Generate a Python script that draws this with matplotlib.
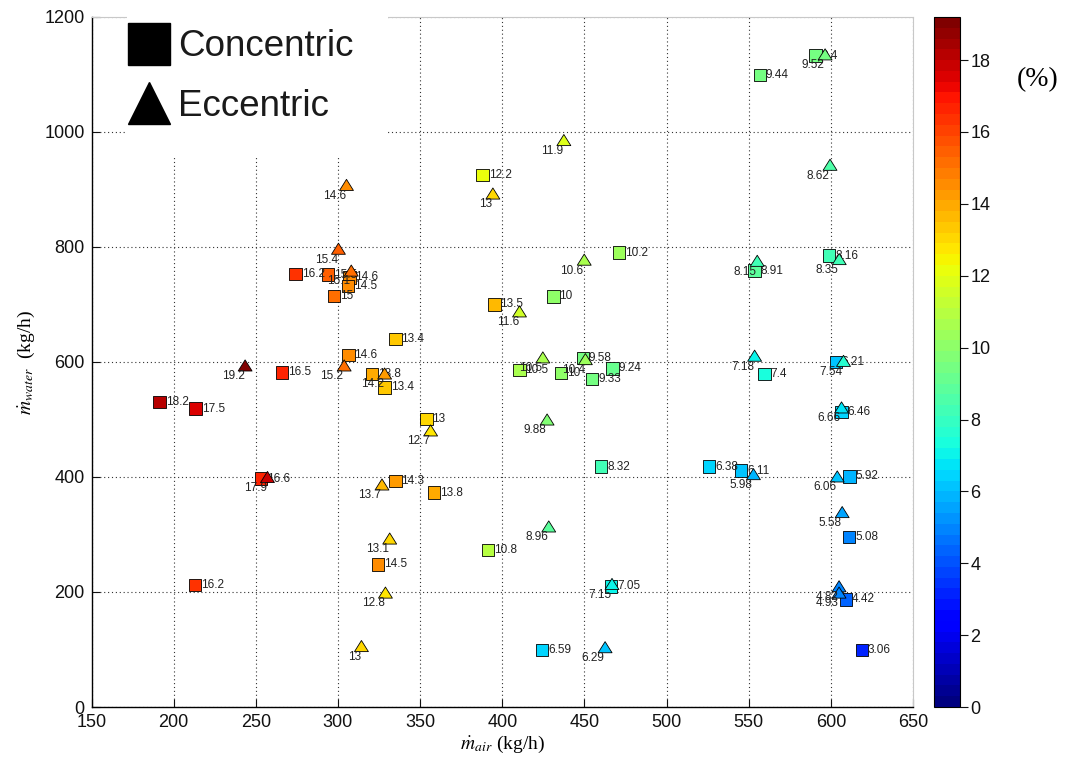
import matplotlib
matplotlib.use('Agg')
from matplotlib import pyplot as plt
from matplotlib.lines import Line2D
from matplotlib.patches import Rectangle
from matplotlib.path import Path
import numpy as np

plt.rcParams['font.family'] = 'Liberation Sans'
plt.rcParams['mathtext.fontset'] = 'stix'

# concentric runs (squares): air flow, water flow, value in %
conc_air = [191.5, 213.4, 213.1, 253.3, 265.8, 274.3, 293.8, 307.0, 306.0, 297.5,
            306.4, 334.9, 320.8, 328.4, 353.8, 334.9, 358.4, 324.4, 388.1, 395.3,
            391.2, 410.5, 431.2, 435.9, 449.0, 467.2, 454.7, 471.2, 460.2, 424.3,
            466.2, 525.8, 545.3, 556.8, 590.8, 553.4, 599.0, 559.7, 603.0, 606.5,
            611.5, 611.1, 609.1, 618.9]
conc_water = [530, 519, 212, 397, 582, 753, 752, 747, 732, 715,
              612, 640, 579, 556, 501, 393, 373, 248, 925, 700,
              273, 586, 714, 581, 607, 589, 570, 790, 418, 99,
              210, 418, 411, 1099, 1133, 759, 785, 579, 600, 513,
              401, 296, 187, 99]
conc_val = [18.2, 17.5, 16.2, 16.6, 16.5, 16.2, 15.5, 14.6, 14.5, 15,
            14.6, 13.4, 13.8, 13.4, 13, 14.3, 13.8, 14.5, 12.2, 13.5,
            10.8, 10.5, 10, 10, 9.58, 9.24, 9.33, 10.2, 8.32, 6.59,
            7.05, 6.38, 6.11, 9.44, 9.4, 8.91, 8.16, 7.4, 6.21, 6.46,
            5.92, 5.08, 4.42, 3.06]

# eccentric runs (triangles)
ecc_air = [243.5, 257.1, 303.8, 305.2, 300.3, 308.1, 328.4, 356.4, 326.8, 331.5,
           328.9, 314.3, 394.3, 410.5, 437.5, 424.7, 450.6, 449.9, 427.3, 428.3,
           466.8, 462.6, 555.2, 553.6, 552.9, 596.5, 599.5, 605.1, 607.7, 606.5,
           603.9, 606.9, 605.0, 605.0]
ecc_water = [594, 400, 594, 908, 797, 759, 580, 481, 387, 293,
             199, 106, 893, 688, 986, 608, 605, 778, 500, 314,
             214, 104, 776, 611, 405, 1135, 943, 779, 602, 521,
             401, 339, 210, 199]
ecc_val = [19.2, 17.9, 15.2, 14.6, 15.4, 15.1, 14.2, 12.7, 13.7, 13.1,
           12.8, 13, 13, 11.6, 11.9, 10.5, 10.4, 10.6, 9.88, 8.96,
           7.15, 6.29, 8.15, 7.18, 5.98, 9.52, 8.62, 8.35, 7.54, 6.66,
           6.06, 5.58, 4.82, 4.93]

x_ticks = np.arange(150, 651, 50)
y_ticks = np.arange(0, 1201, 200)
cbar_ticks = np.arange(0, 19, 2)
vmax = max(conc_val + ecc_val)

cmap = matplotlib.colormaps['jet'].resampled(64)
# flattened triangle, wider than tall
tri = Path([(-1, -0.8), (1, -0.8), (0, 0.8), (-1, -0.8)], closed=True)

fig = plt.figure(figsize=(10.7, 7.62), dpi=100)
ax = fig.add_axes([91.5 / 1070, 55 / 762, 821.5 / 1070, 690 / 762])

sc = ax.scatter(conc_air, conc_water, c=conc_val, cmap=cmap, vmin=0, vmax=vmax,
                marker='s', s=81, edgecolors='k', linewidths=0.6, zorder=3)
for x, y, v in zip(conc_air, conc_water, conc_val):
    ax.annotate(f'{v:g}', (x, y), xytext=(4.3, 0), textcoords='offset points',
                ha='left', va='center', fontsize=8.5, color='#222222', zorder=4)

ax.scatter(ecc_air, ecc_water, c=ecc_val, cmap=cmap, vmin=0, vmax=vmax,
           marker=tri, s=100, edgecolors='k', linewidths=0.6, zorder=5)
for x, y, v in zip(ecc_air, ecc_water, ecc_val):
    ax.annotate(f'{v:g}', (x, y), xytext=(-0.5, -3.5), textcoords='offset points',
                ha='right', va='top', fontsize=8.5, color='#222222', zorder=6)

ax.set_xlim(150, 650)
ax.set_ylim(0, 1200)
ax.set_xticks(x_ticks)
ax.set_yticks(y_ticks)
ax.grid(True, linestyle=(0, (1, 2.5)), color='#333333', linewidth=0.8)
ax.set_axisbelow(True)
ax.tick_params(direction='in', length=6, labelsize=13, colors='#111111', pad=5)
for side in ['top', 'right']:
    ax.spines[side].set_color('#c8c8c8')
ax.spines['left'].set_linewidth(1.0)
ax.spines['bottom'].set_linewidth(1.0)

ax.set_xlabel(r'$\dot{m}_{air}$ (kg/h)', family='Liberation Serif', fontsize=14, labelpad=2)
ax.set_ylabel(r'$\dot{m}_{water}$  (kg/h)', family='Liberation Serif', fontsize=14, labelpad=5)

# white backing behind the marker legend
ax.add_patch(Rectangle((0.043, 0.797), 0.318, 0.215, transform=ax.transAxes,
                       facecolor='white', edgecolor='none', zorder=7, clip_on=False))
handles = [Line2D([], [], marker='s', ls='none', color='k', ms=30),
           Line2D([], [], marker='^', ls='none', color='k', ms=30)]
leg = ax.legend(handles, ['Concentric', 'Eccentric'], loc='upper left',
                bbox_to_anchor=(0.044, 0.982), frameon=False, fontsize=26.5,
                handlelength=1.15, handletextpad=0.22, labelspacing=0.66,
                borderpad=0, borderaxespad=0)
leg.set_zorder(8)
for t in leg.get_texts():
    t.set_color('#1a1a1a')

cax = fig.add_axes([934 / 1070, 55 / 762, 26 / 1070, 690 / 762])
cb = fig.colorbar(sc, cax=cax, ticks=cbar_ticks)
cb.ax.tick_params(direction='out', length=6, labelsize=13, colors='#111111', pad=1.5)
cb.outline.set_linewidth(0.8)
fig.text(1038 / 1070, 1 - 80 / 762, '(%)', family='Liberation Serif', fontsize=20,
         ha='center', va='center')

fig.savefig('out.png', dpi=100)
